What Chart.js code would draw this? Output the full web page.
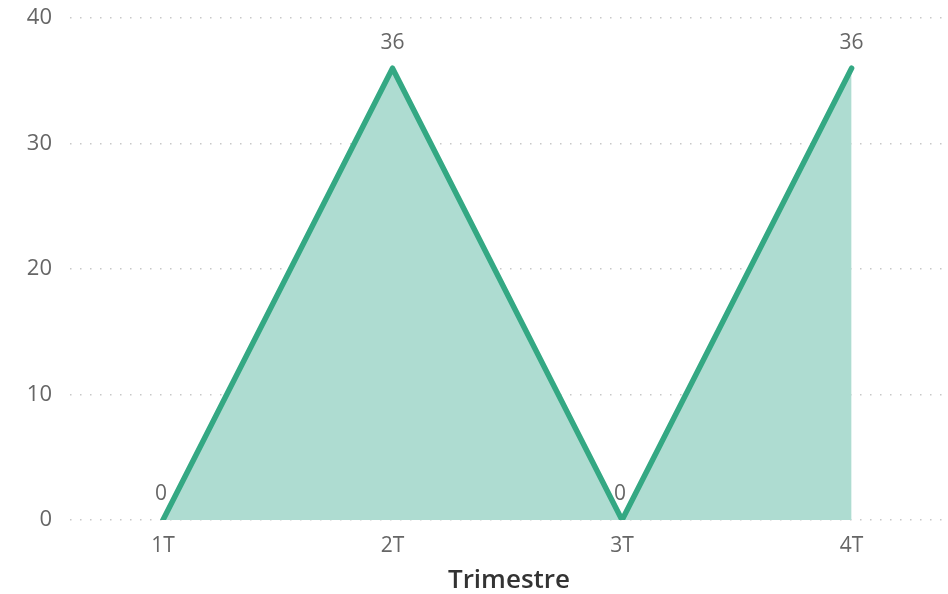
<!DOCTYPE html>
<html><head><meta charset="utf-8">
<script src="https://cdn.jsdelivr.net/npm/chart.js@4/dist/chart.umd.min.js"></script>
<style>html,body{margin:0;padding:0;background:#fff}#wrap{width:948px;height:594px}</style>
</head><body><div id="wrap"><canvas id="c"></canvas></div>
<script>
const categories = ["1T", "2T", "3T", "4T"];
const values = [0, 36, 0, 36];
const yTicks = [0, 10, 20, 30, 40];
const axisTitle = "Trimestre";

const FONT = "'Open Sans', 'Noto Sans', sans-serif";
const points = categories.map((c, i) => ({x: i, y: values[i]}));

const labelPlugin = {
  id: 'labels',
  afterDatasetsDraw(chart) {
    const ctx = chart.ctx;
    const meta = chart.getDatasetMeta(0);
    ctx.save();
    ctx.font = "21px " + FONT;
    ctx.fillStyle = "#666666";
    ctx.textAlign = "center";
    ctx.textBaseline = "bottom";
    meta.data.forEach((el, i) => {
      ctx.fillText(String(values[i]), el.x - (values[i] === 0 ? 2 : 0), el.y - 15);
    });
    ctx.restore();
  }
};

new Chart(document.getElementById('c'), {
  type: 'line',
  data: {
    datasets: [{
      data: points,
      borderColor: '#34A883',
      backgroundColor: '#AEDCD1',
      borderWidth: 5.5,
      borderCapStyle: 'round',
      borderJoinStyle: 'round',
      fill: 'origin',
      pointRadius: 0,
      tension: 0
    }]
  },
  plugins: [labelPlugin],
  options: {
    responsive: true,
    maintainAspectRatio: false,
    animation: false,
    layout: {padding: {top: 18, right: 0, left: 0, bottom: 0}},
    plugins: {legend: {display: false}, tooltip: {enabled: false}},
    scales: {
      x: {
        type: 'linear',
        min: -0.405,
        max: 3.42,
        afterBuildTicks(scale) { scale.ticks = categories.map((c, i) => ({value: i})); },
        ticks: {
          callback: (v) => categories[v],
          font: {family: FONT, size: 21},
          color: '#666666',
          padding: 13,
          maxRotation: 0,
          autoSkip: false
        },
        grid: {display: false, drawTicks: false},
        border: {display: false},
        title: {
          display: true,
          text: axisTitle,
          font: {family: FONT, size: 26, weight: '600', lineHeight: 1.0},
          color: '#333333',
          padding: {top: 5, bottom: 0}
        },
        afterFit(scale) { scale.height = 74; scale.paddingLeft = 0; scale.paddingRight = 0; }
      },
      y: {
        min: 0,
        max: 40,
        afterBuildTicks(scale) { scale.ticks = yTicks.map(v => ({value: v})); },
        ticks: {
          font: {family: FONT, size: 22},
          color: '#666666',
          padding: 18
        },
        grid: {
          color: '#C8C8C8',
          lineWidth: 1.5,
          drawTicks: false
        },
        border: {display: false, dash: [1.5, 8.5]},
        afterFit(scale) { scale.width = 70; scale.paddingTop = 0; scale.paddingBottom = 0; }
      }
    }
  }
});
</script></body></html>
